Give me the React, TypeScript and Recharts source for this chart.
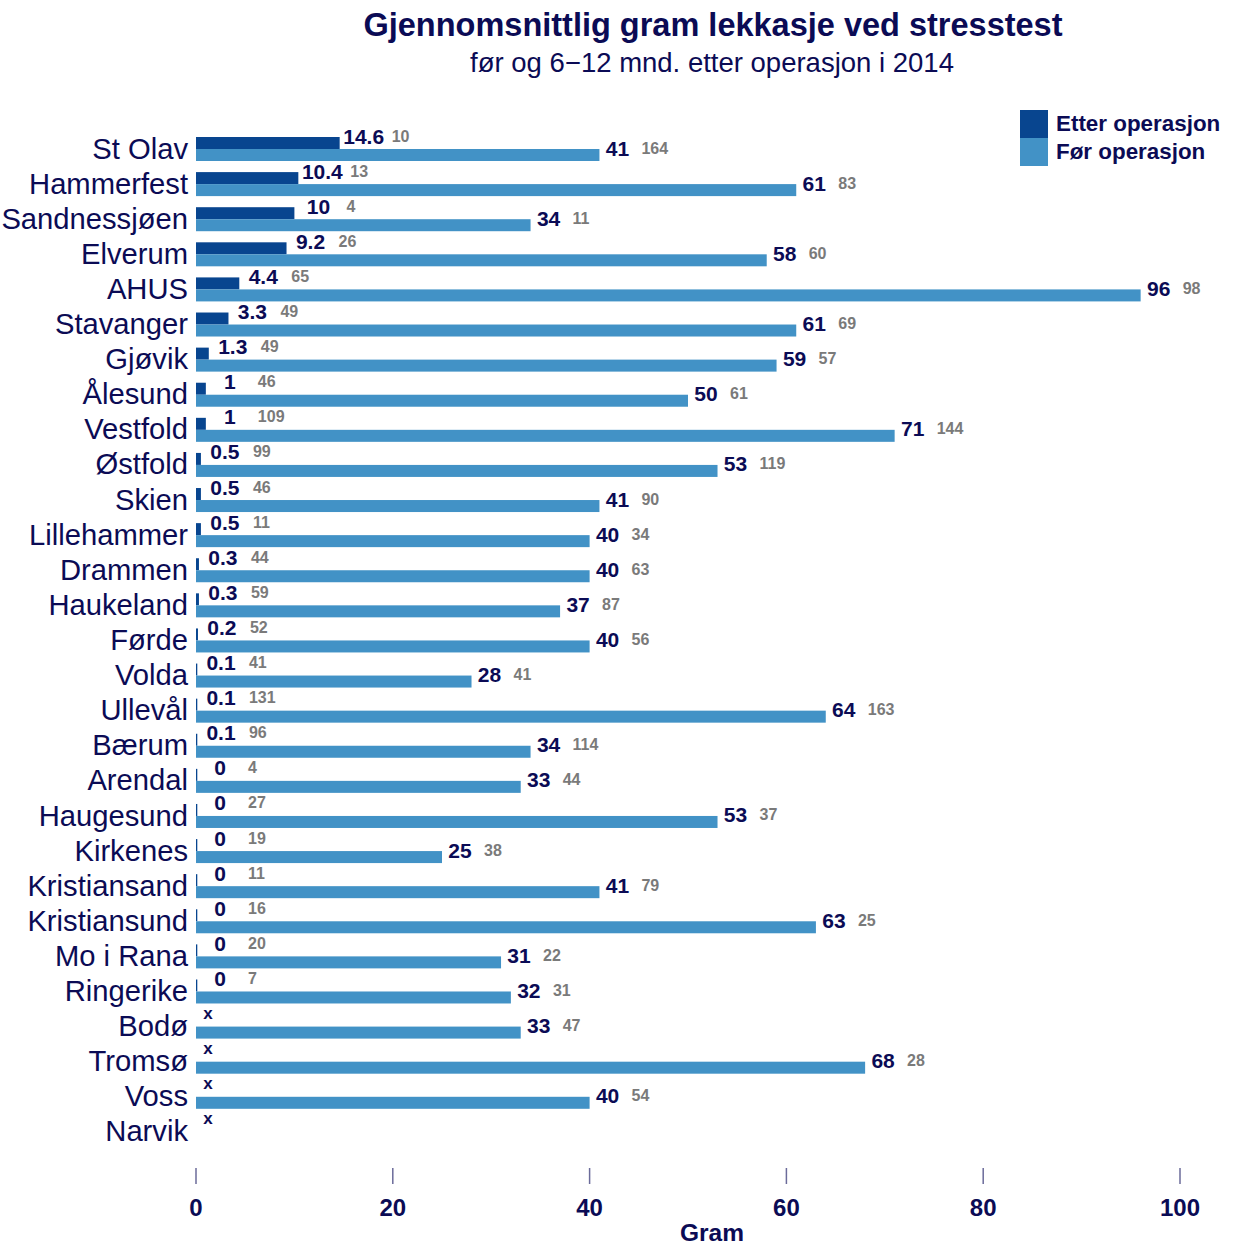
import { BarChart, Bar, XAxis, YAxis } from "recharts";

const sykehus = [
  "St Olav", "Hammerfest", "Sandnessjøen", "Elverum", "AHUS", "Stavanger", "Gjøvik",
  "Ålesund", "Vestfold", "Østfold", "Skien", "Lillehammer", "Drammen", "Haukeland",
  "Førde", "Volda", "Ullevål", "Bærum", "Arendal", "Haugesund", "Kirkenes",
  "Kristiansand", "Kristiansund", "Mo i Rana", "Ringerike", "Bodø", "Tromsø", "Voss", "Narvik",
];

// gram lekkasje etter operasjon (null = mangler, vises som "x")
const etter = [
  14.6, 10.4, 10, 9.2, 4.4, 3.3, 1.3, 1, 1, 0.5, 0.5, 0.5, 0.3, 0.3, 0.2, 0.1, 0.1, 0.1,
  0, 0, 0, 0, 0, 0, 0, null, null, null, null,
];
const etterN = [
  10, 13, 4, 26, 65, 49, 49, 46, 109, 99, 46, 11, 44, 59, 52, 41, 131, 96,
  4, 27, 19, 11, 16, 20, 7, null, null, null, null,
];

// gram lekkasje før operasjon
const foer = [
  41, 61, 34, 58, 96, 61, 59, 50, 71, 53, 41, 40, 40, 37, 40, 28, 64, 34,
  33, 53, 25, 41, 63, 31, 32, 33, 68, 40, null,
];
const foerN = [
  164, 83, 11, 60, 98, 69, 57, 61, 144, 119, 90, 34, 63, 87, 56, 41, 163, 114,
  44, 37, 38, 79, 25, 22, 31, 47, 28, 54, null,
];

const xTicks = [0, 20, 40, 60, 80, 100];

const data = sykehus.map((navn, i) => ({
  navn,
  etter: etter[i] ?? 0,
  etterVerdi: etter[i],
  etterN: etterN[i],
  foer: foer[i],
  foerN: foerN[i],
}));

const FONT = '"Liberation Sans", Arial, sans-serif';
const NAVY = "#0b0b55";
const GREY = "#7a7a7a";
const DARK = "#08458f";
const LIGHT = "#4292c6";

const EtterShape = (props: any) => {
  const { x, y, width, height, payload } = props;
  if (payload.etterVerdi == null) {
    return (
      <text x={x + 12} y={y - 1} textAnchor="middle" dominantBaseline="central"
        fontFamily={FONT} fontWeight="bold" fontSize={17} fill={NAVY}>x</text>
    );
  }
  const w = Math.max(width, 1.3);
  const end = x + width;
  return (
    <g>
      <rect x={x} y={y} width={w} height={height} fill={DARK} />
      <text x={end + 24} y={y - 1} textAnchor="middle" dominantBaseline="central"
        fontFamily={FONT} fontWeight="bold" fontSize={21} fill={NAVY}>
        {payload.etterVerdi}
      </text>
      <text x={end + 52} y={y - 1} textAnchor="start" dominantBaseline="central"
        fontFamily={FONT} fontWeight="bold" fontSize={16} fill={GREY}>
        {payload.etterN}
      </text>
    </g>
  );
};

const FoerShape = (props: any) => {
  const { x, y, width, height, payload } = props;
  if (payload.foer == null) return null;
  const end = x + width;
  return (
    <g>
      <rect x={x} y={y} width={width} height={height} fill={LIGHT} />
      <text x={end + 18} y={y - 1} textAnchor="middle" dominantBaseline="central"
        fontFamily={FONT} fontWeight="bold" fontSize={21} fill={NAVY}>
        {payload.foer}
      </text>
      <text x={end + 42} y={y - 1} textAnchor="start" dominantBaseline="central"
        fontFamily={FONT} fontWeight="bold" fontSize={16} fill={GREY}>
        {payload.foerN}
      </text>
    </g>
  );
};

const YTick = (props: any) => {
  const { y, payload } = props;
  return (
    <text x={188} y={y} textAnchor="end" dominantBaseline="central"
      fontFamily={FONT} fontSize={29.2} fill={NAVY}>
      {payload.value}
    </text>
  );
};

const XTick = (props: any) => {
  const { x, payload } = props;
  return (
    <g>
      <line x1={x} x2={x} y1={1168} y2={1184} stroke="#6b6b9a" strokeWidth={1.5} />
      <text x={x} y={1207} textAnchor="middle" dominantBaseline="central"
        fontFamily={FONT} fontWeight="bold" fontSize={24} fill={NAVY}>
        {payload.value}
      </text>
    </g>
  );
};

const legendItems = [
  { navn: "Etter operasjon", farge: DARK },
  { navn: "Før operasjon", farge: LIGHT },
];

export default function App() {
  return (
    <div style={{ position: "absolute", left: 0, top: 0, width: 1236, height: 1249, background: "#fff" }}>
      <div style={{ position: "absolute", left: 713, top: 25, transform: "translate(-50%, -50%)",
        whiteSpace: "nowrap", fontFamily: FONT, fontWeight: "bold", fontSize: 32.5, color: NAVY }}>
        Gjennomsnittlig gram lekkasje ved stresstest
      </div>
      <div style={{ position: "absolute", left: 712, top: 63, transform: "translate(-50%, -50%)",
        whiteSpace: "nowrap", fontFamily: FONT, fontSize: 27.5, color: NAVY }}>
        før og 6−12 mnd. etter operasjon i 2014
      </div>
      <div style={{ position: "absolute", left: 1020, top: 110, fontFamily: FONT, fontWeight: "bold",
        fontSize: 22.4, color: NAVY }}>
        {legendItems.map((e) => (
          <div key={e.navn} style={{ display: "flex", alignItems: "center", height: 28, whiteSpace: "nowrap" }}>
            <div style={{ width: 28, height: 28, background: e.farge, marginRight: 8 }} />
            <span>{e.navn}</span>
          </div>
        ))}
      </div>
      <BarChart
        width={1236}
        height={1249}
        data={data}
        layout="vertical"
        margin={{ top: 131, right: 56, bottom: 0, left: 0 }}
        barGap={0}
        barSize={12}
      >
        <XAxis type="number" domain={[0, 100]} ticks={xTicks} axisLine={false} tickLine={false}
          tick={<XTick />} height={100} interval={0} />
        <YAxis type="category" dataKey="navn" width={196} axisLine={false} tickLine={false}
          tick={<YTick />} interval={0} />
        <Bar dataKey="etter" fill={DARK} shape={<EtterShape />} isAnimationActive={false} />
        <Bar dataKey="foer" fill={LIGHT} shape={<FoerShape />} isAnimationActive={false} />
      </BarChart>
      <div style={{ position: "absolute", left: 712, top: 1233, transform: "translate(-50%, -50%)",
        whiteSpace: "nowrap", fontFamily: FONT, fontWeight: "bold", fontSize: 24.5, color: NAVY }}>
        Gram
      </div>
    </div>
  );
}
